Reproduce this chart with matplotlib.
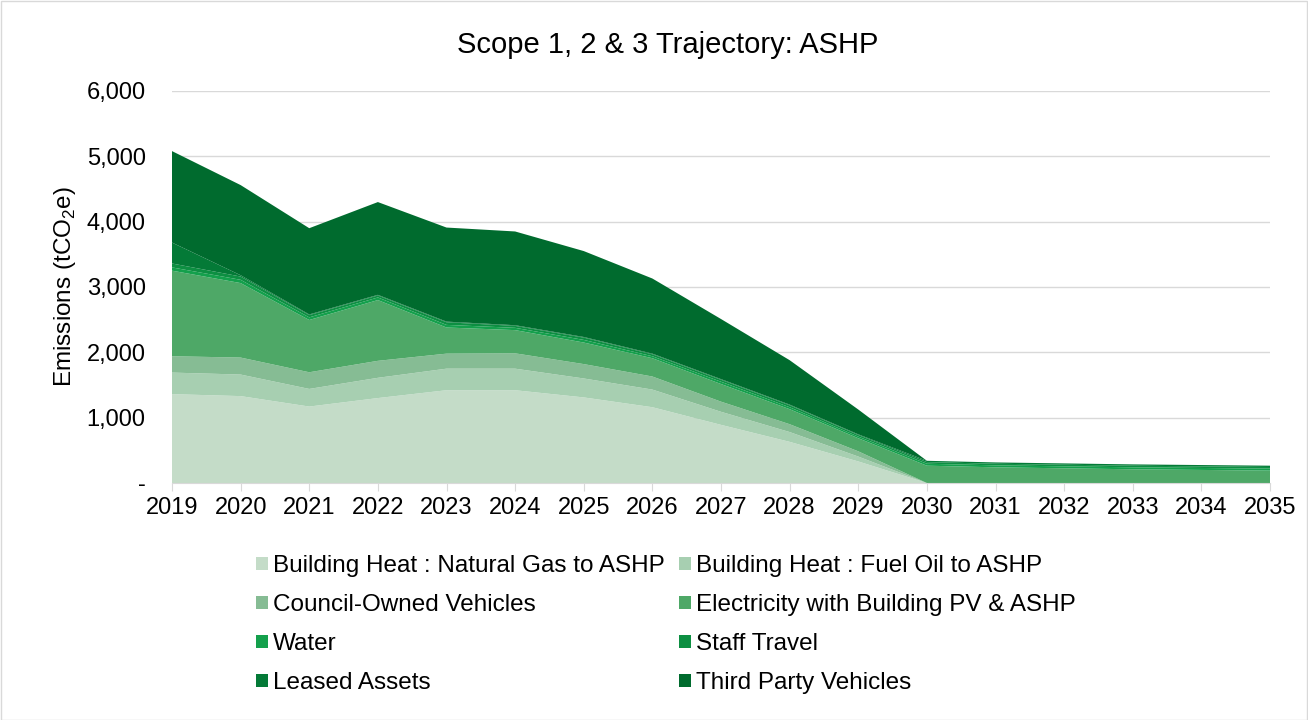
import matplotlib
matplotlib.use("Agg")
import matplotlib.pyplot as plt
from matplotlib.patches import Rectangle
from matplotlib.ticker import FuncFormatter

plt.rcParams['font.family'] = ['Liberation Sans', 'DejaVu Sans']
plt.rcParams['mathtext.fontset'] = 'custom'
plt.rcParams['mathtext.rm'] = 'Liberation Sans'

years = list(range(2019, 2036))

natural_gas = [1360, 1330, 1170, 1300, 1420, 1420, 1310, 1160, 890, 630, 330, 0, 0, 0, 0, 0, 0]
fuel_oil = [330, 330, 270, 310, 330, 330, 290, 270, 200, 150, 75, 0, 0, 0, 0, 0, 0]
council_vehicles = [250, 260, 255, 260, 230, 235, 220, 200, 155, 120, 80, 0, 0, 0, 0, 0, 0]
electricity = [1310, 1140, 800, 930, 400, 355, 330, 280, 270, 230, 200, 265, 240, 225, 210, 200, 190]
water = [50, 50, 40, 40, 40, 35, 40, 30, 35, 30, 25, 30, 30, 30, 30, 30, 30]
staff_travel = [60, 50, 35, 30, 40, 30, 35, 30, 30, 30, 25, 25, 25, 25, 25, 25, 25]
leased_assets = [320, 20, 10, 10, 10, 10, 10, 10, 10, 10, 10, 20, 20, 20, 20, 20, 20]
third_party_vehicles = [1400, 1380, 1320, 1420, 1440, 1435, 1315, 1150, 920, 680, 380, 0, 0, 0, 0, 0, 0]

labels = [
    "Building Heat : Natural Gas to ASHP",
    "Building Heat : Fuel Oil to ASHP",
    "Council-Owned Vehicles",
    "Electricity with Building PV & ASHP",
    "Water",
    "Staff Travel",
    "Leased Assets",
    "Third Party Vehicles",
]
colors = ["#c4dcc8", "#a7cfb1", "#86bc94", "#4ea867",
          "#14a04c", "#0d8f42", "#047a37", "#006b2e"]

series = [natural_gas, fuel_oil, council_vehicles, electricity,
          water, staff_travel, leased_assets, third_party_vehicles]

FS = 17.5

fig = plt.figure(figsize=(13.08, 7.2), dpi=100)
ax = fig.add_axes([172 / 1308, 1 - 483 / 720, (1270 - 172) / 1308, (483 - 91) / 720])

ax.stackplot(years, *series, colors=colors, labels=labels, linewidth=0)

ax.set_xlim(years[0], years[-1])
ax.set_ylim(0, 6000)
ax.set_yticks(range(0, 6001, 1000))
ax.yaxis.set_major_formatter(FuncFormatter(lambda v, p: "-" if v == 0 else f"{int(v):,}"))
ax.set_xticks(years)
ax.grid(axis='y', color='#d9d9d9', linewidth=1)
ax.set_axisbelow(True)
for s in ['top', 'right', 'left']:
    ax.spines[s].set_visible(False)
ax.spines['bottom'].set_color('#d9d9d9')
ax.tick_params(axis='y', length=0, labelsize=17, pad=19, colors='black')
ax.tick_params(axis='x', length=6, color='#d9d9d9', labelsize=17, pad=4)

ax.set_ylabel("Emissions (tCO$_{2}$e)", fontsize=FS, labelpad=6)
fig.text(0.5105, 0.9375, "Scope 1, 2 & 3 Trajectory: ASHP", ha='center', va='center', fontsize=21)

# legend is filled row by row in the reference
order = [0, 2, 4, 6, 1, 3, 5, 7]
handles, lbls = ax.get_legend_handles_labels()
fig.legend([handles[i] for i in order], [lbls[i] for i in order],
           ncol=2, loc='upper left', bbox_to_anchor=(244 / 1308, 1 - 543 / 720),
           frameon=False, fontsize=FS, handlelength=0.5, handleheight=0.5,
           handletextpad=0.2, columnspacing=0.57, labelspacing=0.7, borderpad=0)

fig.patches.append(Rectangle((0.5 / 1308, 0.5 / 720), 1 - 1.5 / 1308, 1 - 1.5 / 720,
                             transform=fig.transFigure, fill=False,
                             edgecolor='#d9d9d9', linewidth=1))

fig.savefig("out.png", dpi=100)
